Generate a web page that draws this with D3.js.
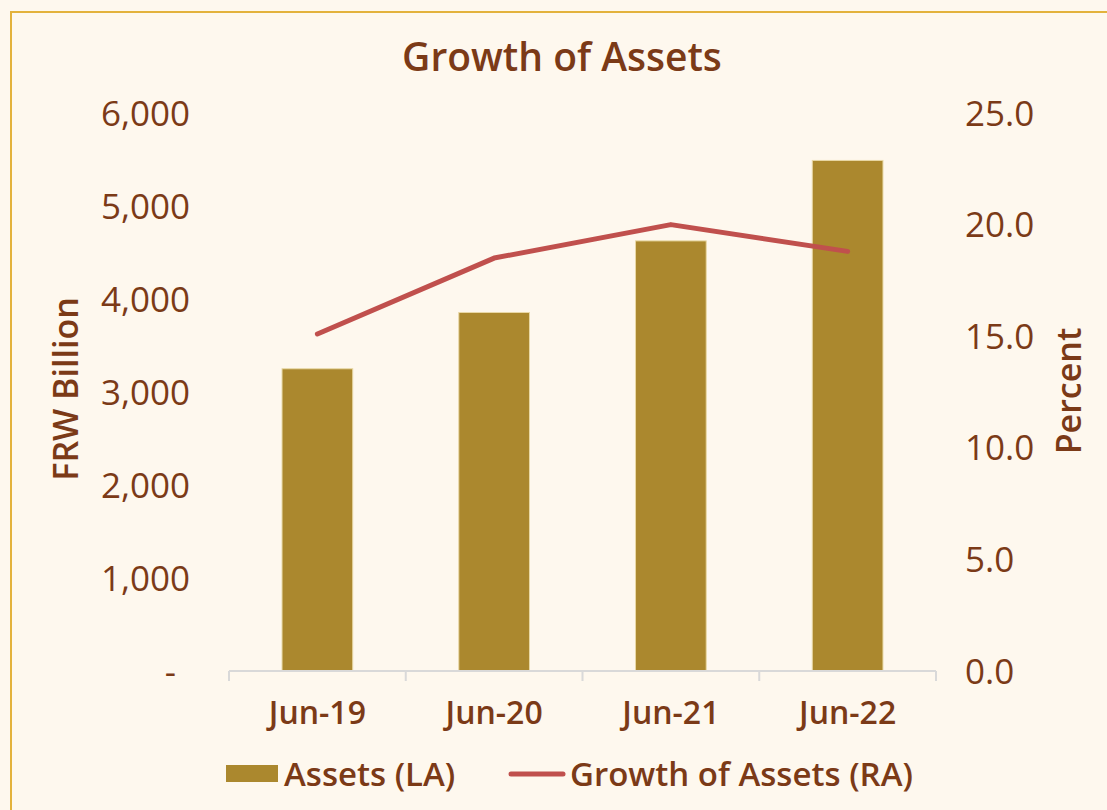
<!DOCTYPE html>
<html>
<head>
<meta charset="utf-8">
<script src="https://cdn.jsdelivr.net/npm/d3@7"></script>
<style>
  body { margin: 0; background: #fef8ee; }
  svg text { font-family: "Open Sans", "Noto Sans", sans-serif; fill: #7b3a17; }
</style>
</head>
<body>
<svg id="chart" width="1107" height="810"></svg>
<script>
// data
const periods = ["Jun-19", "Jun-20", "Jun-21", "Jun-22"];
const assets = [3250, 3855, 4625, 5490];        // FRW Billion, left axis
const growth = [15.1, 18.5, 20.0, 18.8];        // percent, right axis
const leftTicks = [0, 1000, 2000, 3000, 4000, 5000, 6000];
const rightTicks = [0, 5, 10, 15, 20, 25];

const svg = d3.select("#chart");
const margin = {top: 113, bottom: 671, left: 229, right: 936};

// frame
svg.append("rect")
  .attr("x", 11).attr("y", 12).attr("width", 1110).attr("height", 820)
  .attr("fill", "#fef8ee").attr("stroke", "#e3b23c").attr("stroke-width", 2);

let x = d3.scaleBand().domain(periods).range([margin.left, margin.right]).paddingInner(0).paddingOuter(0);
let yL = d3.scaleLinear().domain([0, 6000]).range([margin.bottom, margin.top]);
let yR = d3.scaleLinear().domain([0, 25]).range([margin.bottom, margin.top]);

svg.append("text")
  .attr("x", 562).attr("y", 71)
  .attr("text-anchor", "middle")
  .attr("font-size", 39).attr("font-weight", 600)
  .text("Growth of Assets");

// bars
const barW = x.bandwidth() * 0.4;
svg.append("g").selectAll("rect")
  .data(periods)
  .enter().append("rect")
    .attr("x", (d) => x(d) + x.bandwidth() / 2 - barW / 2)
    .attr("y", (d, i) => yL(assets[i]))
    .attr("width", barW)
    .attr("height", (d, i) => yL(0) - yL(assets[i]))
    .attr("fill", "#ab882e")
    .attr("stroke", "#e9d9a6").attr("stroke-width", 1);

// x axis line with tick marks at band edges
const xAxis = svg.append("g").attr("transform", `translate(0,${margin.bottom})`);
xAxis.append("line")
  .attr("x1", margin.left).attr("x2", margin.right)
  .attr("stroke", "#d9d9d9").attr("stroke-width", 2);
const edges = periods.map(d => x(d)).concat([margin.right]);
xAxis.selectAll("line.tk").data(edges).enter().append("line")
  .attr("class", "tk")
  .attr("x1", d => d).attr("x2", d => d)
  .attr("y1", 0).attr("y2", 10)
  .attr("stroke", "#d9d9d9").attr("stroke-width", 2);
xAxis.selectAll("text").data(periods).enter().append("text")
  .attr("x", d => x(d) + x.bandwidth() / 2)
  .attr("y", 53)
  .attr("text-anchor", "middle")
  .attr("font-size", 32).attr("font-weight", 600)
  .text(d => d);

// line
const line = d3.line()
  .x((d, i) => x(periods[i]) + x.bandwidth() / 2)
  .y(d => yR(d));
svg.append("path")
  .datum(growth)
  .attr("d", line)
  .attr("fill", "none")
  .attr("stroke", "#c0504d")
  .attr("stroke-width", 5)
  .attr("stroke-linecap", "round")
  .attr("stroke-linejoin", "round");

// left axis labels
const fmt = d3.format(",");
svg.append("g").selectAll("text")
  .data(leftTicks)
  .enter().append("text")
    .attr("x", d => d === 0 ? 176 : 190)
    .attr("y", d => yL(d))
    .attr("dy", "0.36em")
    .attr("text-anchor", "end")
    .attr("font-size", 35)
    .text(d => d === 0 ? "-" : fmt(d));

// right axis labels
svg.append("g").selectAll("text")
  .data(rightTicks)
  .enter().append("text")
    .attr("x", 965)
    .attr("y", d => yR(d))
    .attr("dy", "0.36em")
    .attr("text-anchor", "start")
    .attr("font-size", 35)
    .text(d => d.toFixed(1));

// axis titles
svg.append("text")
  .attr("transform", "translate(78,389) rotate(-90)")
  .attr("text-anchor", "middle")
  .attr("font-size", 34).attr("font-weight", 600)
  .text("FRW Billion");
svg.append("text")
  .attr("transform", "translate(1081,391) rotate(-90)")
  .attr("text-anchor", "middle")
  .attr("font-size", 34).attr("font-weight", 600)
  .text("Percent");

// legend
const lg = svg.append("g").attr("transform", "translate(0,774)");
lg.append("rect").attr("x", 226).attr("y", -9).attr("width", 52).attr("height", 17).attr("fill", "#ab882e");
lg.append("text").attr("x", 284).attr("y", 0).attr("dy", "0.36em")
  .attr("font-size", 33).attr("font-weight", 600).text("Assets (LA)");
lg.append("line").attr("x1", 511).attr("x2", 563).attr("y1", 0).attr("y2", 0)
  .attr("stroke", "#c0504d").attr("stroke-width", 5).attr("stroke-linecap", "round");
lg.append("text").attr("x", 570).attr("y", 0).attr("dy", "0.36em")
  .attr("font-size", 33).attr("font-weight", 600).text("Growth of Assets (RA)");
</script>
</body>
</html>
